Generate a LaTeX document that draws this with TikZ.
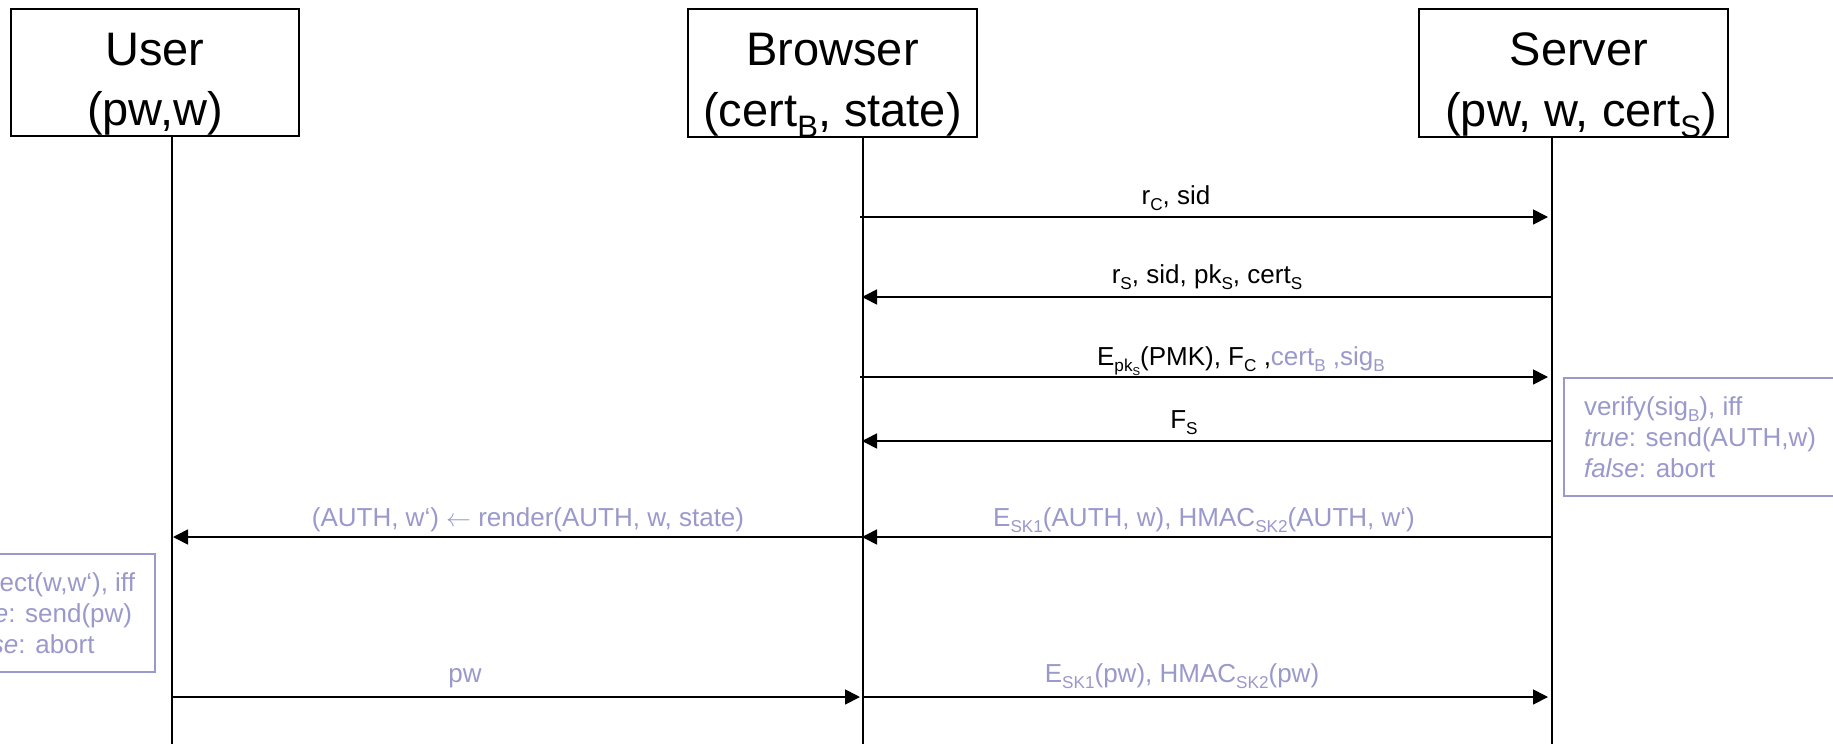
\documentclass[tikz,border=0pt]{standalone}
\usepackage{fontspec}
\setmainfont{Liberation Sans}
\usepackage{graphicx}
\usetikzlibrary{arrows.meta}
\definecolor{lav}{RGB}{153,153,204}
\newcommand\sbs[1]{\raisebox{-0.24em}{\scalebox{0.66}{#1}}}
\begin{document}
\begin{tikzpicture}[x=1pt,y=-1pt,
  hdr/.style={draw, line width=1.8pt, inner sep=0pt},
  htxt/.style={font=\fontsize{47}{57}\selectfont, anchor=base, inner sep=0pt},
  life/.style={line width=1.7pt},
  msg/.style={line width=1.7pt, -{Triangle[length=15pt,width=15pt]}},
  lbl/.style={font=\fontsize{26}{28}\selectfont, anchor=base, inner sep=0pt},
  note/.style={draw=lav, line width=2pt, text=lav, align=left,
    font=\fontsize{26}{31}\selectfont, inner xsep=20pt, inner ysep=0pt,
    minimum height=118pt}]
\useasboundingbox (0,0) rectangle (1833,744);
\fill[white] (0,0) rectangle (1833,744);

% header boxes
\node[hdr, minimum width=288pt, minimum height=127pt] (user) at (155,72.5) {};
\node[hdr, minimum width=289pt, minimum height=128pt] (browser) at (832.5,73) {};
\node[hdr, minimum width=309pt, minimum height=128pt] (server) at (1573.5,73) {};
\node[htxt] (userA) at (155,65) {User};
\node[htxt] (userB) at (155,125) {(pw,w)};
\node[htxt] (browserA) at (832.5,65) {Browser};
\node[htxt] (browserB) at (832.5,126) {(cert\sbs{B}, state)};
\node[htxt] (serverA) at (1579,65) {Server};
\node[htxt] (serverB) at (1581,126) {(pw, w, cert\sbs{S})};

% lifelines
\coordinate (uE) at (172,744);
\coordinate (bE) at (863,744);
\coordinate (sE) at (1552,744);
\draw[life] (user.south -| uE) -- (uE);
\draw[life] (browser.south -| bE) -- (bE);
\draw[life] (server.south -| sE) -- (sE);

% message end points
\coordinate (b1) at (860,217);  \coordinate (s1) at (1548,217);
\coordinate (s2) at (1553,297); \coordinate (b2) at (862,297);
\coordinate (b3) at (860,377);  \coordinate (s3) at (1548,377);
\coordinate (s4) at (1552,441); \coordinate (b4) at (862,441);
\coordinate (s5) at (1552,537); \coordinate (b5) at (862,537);
\coordinate (b5s) at (863,537); \coordinate (u5) at (173,537);
\coordinate (u6) at (172,697);  \coordinate (b6) at (860,697);
\coordinate (b6s) at (863,697); \coordinate (s6) at (1548,697);

\draw[msg] (b1) -- (s1);
\draw[msg] (s2) -- (b2);
\draw[msg] (b3) -- (s3);
\draw[msg] (s4) -- (b4);
\draw[msg] (s5) -- (b5);
\draw[msg] (b5s) -- (u5);
\draw[msg] (u6) -- (b6);
\draw[msg] (b6s) -- (s6);

% labels
\node[lbl] (m1) at (1176,204) {r\sbs{C}, sid};
\node[lbl] (m2) at (1207,283) {r\sbs{S}, sid, pk\sbs{S}, cert\sbs{S}};
\node[lbl] (m3) at (1241,365) {E\sbs{pk\sbs{S}}(PMK), F\sbs{C} ,\textcolor{lav}{cert\sbs{B} ,sig\sbs{B}}};
\node[lbl] (m4) at (1184,428) {F\sbs{S}};
\node[lbl, text=lav] (m5a) at (528,526) {(AUTH, w‘) $\leftarrow$ render(AUTH, w, state)};
\node[lbl, text=lav] (m5b) at (1204,526) {E\sbs{SK1}(AUTH, w), HMAC\sbs{SK2}(AUTH, w‘)};
\node[lbl, text=lav] (m6a) at (465,682) {pw};
\node[lbl, text=lav] (m6b) at (1182,682) {E\sbs{SK1}(pw), HMAC\sbs{SK2}(pw)};

% notes
\node[note, anchor=north west] (verify) at (1563,377)
  {verify(sig\sbs{B}), iff\\\textit{true}: send(AUTH,w)\\\textit{false}: abort};
\node[note, anchor=north east] (detect) at (156,553)
  {detect(w,w‘), iff\\\textit{true}: send(pw)\\\textit{false}: abort};
\end{tikzpicture}
\end{document}
